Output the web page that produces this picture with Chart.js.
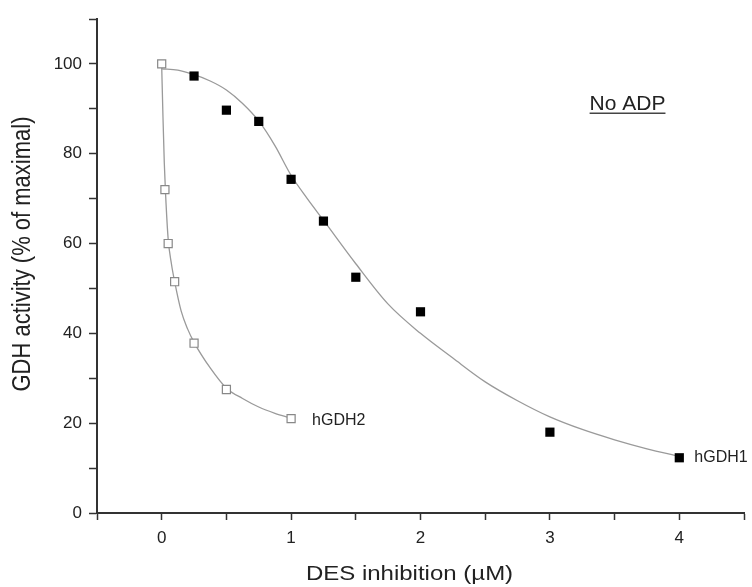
<!DOCTYPE html>
<html>
<head>
<meta charset="utf-8">
<title>GDH activity vs DES</title>
<script src="https://cdn.jsdelivr.net/npm/chart.js@4"></script>
<style>
  html, body { margin: 0; padding: 0; background: #fff; }
  canvas { display: block; }
</style>
</head>
<body>
<canvas id="chart" width="752" height="587"></canvas>
<script>
// measured points
const gdh1X = [0.25, 0.5, 0.75, 1, 1.25, 1.5, 2, 3, 4];
const gdh1Y = [97.3, 89.7, 87.2, 74.3, 65.0, 52.5, 44.8, 18.0, 12.3];
const gdh2X = [0, 0.025, 0.05, 0.1, 0.25, 0.5, 1];
const gdh2Y = [100, 72.0, 60.0, 51.5, 37.8, 27.5, 21.0];

// fitted curves
const fit1X = [0, 0.125, 0.25, 0.375, 0.5, 0.625, 0.75, 0.875, 1, 1.125, 1.25, 1.5, 1.75, 2, 2.25, 2.5, 2.75, 3, 3.25, 3.5, 3.75, 4];
const fit1Y = [98.9, 98.6, 97.6, 96.2, 94.2, 91.2, 87.3, 81.8, 75.2, 70.0, 65.2, 55.5, 46.5, 40.0, 34.5, 29.2, 25.0, 21.4, 18.6, 16.3, 14.3, 12.6];
const fit2X = [0, 0.01, 0.02, 0.03, 0.05, 0.075, 0.1, 0.15, 0.2, 0.25, 0.375, 0.5, 0.625, 0.75, 0.875, 1];
const fit2Y = [99.5, 88.0, 78.0, 71.0, 61.0, 55.5, 51.5, 45.0, 41.0, 38.0, 32.3, 27.8, 25.5, 23.6, 22.2, 21.1];

const xTicks = [0, 1, 2, 3, 4];
const yTicks = [0, 20, 40, 60, 80, 100];
const xTitle = "DES inhibition (µM)";
const yTitle = "GDH activity (% of maximal)";

const pts = (xs, ys) => xs.map((x, i) => ({ x, y: ys[i] }));
const FONT = "'Liberation Sans', Arial, sans-serif";
const INK = "#222";

// series labels, "No ADP" and the two axis titles
const labels = {
  id: "labels",
  afterDraw(chart) {
    const { ctx, chartArea, scales: { x, y } } = chart;
    ctx.save();
    ctx.fillStyle = INK;
    ctx.textBaseline = "middle";
    ctx.textAlign = "left";
    ctx.font = "16px " + FONT;
    const l1 = gdh1X.length - 1;
    ctx.fillText("hGDH1", x.getPixelForValue(gdh1X[l1]) + 15, y.getPixelForValue(gdh1Y[l1]));
    const l2 = gdh2X.length - 1;
    ctx.fillText("hGDH2", x.getPixelForValue(gdh2X[l2]) + 21, y.getPixelForValue(gdh2Y[l2]) + 2);

    ctx.font = "21px " + FONT;
    ctx.textBaseline = "alphabetic";
    const tx = x.getPixelForValue(3.6), ty = y.getPixelForValue(89.8);
    const w = ctx.measureText("No ADP").width;
    ctx.fillText("No ADP", tx - w / 2, ty);
    ctx.strokeStyle = "#444";
    ctx.lineWidth = 1.5;
    ctx.beginPath();
    ctx.moveTo(tx - w / 2, ty + 3.5);
    ctx.lineTo(tx + w / 2, ty + 3.5);
    ctx.stroke();

    // x title (the source is a little wide, so stretch it)
    ctx.textAlign = "center";
    ctx.textBaseline = "middle";
    ctx.font = "20px " + FONT;
    ctx.save();
    ctx.translate(chartArea.left + (chartArea.right - chartArea.left) * 0.483, 574);
    ctx.scale(1.2, 1);
    ctx.fillText(xTitle, 0, 0);
    ctx.restore();

    // y title
    ctx.font = "22px " + FONT;
    ctx.save();
    ctx.translate(23, (chartArea.top + chartArea.bottom) / 2 - 12);
    ctx.rotate(-Math.PI / 2);
    ctx.scale(1, 1.15);
    ctx.fillText(yTitle, 0, 0);
    ctx.restore();
    ctx.restore();
  },
};

new Chart(document.getElementById("chart"), {
  type: "scatter",
  data: {
    datasets: [
      { label: "hGDH1", data: pts(gdh1X, gdh1Y), order: 0, pointStyle: "rect", pointRadius: 6.5, backgroundColor: "#000", borderColor: "#000", borderWidth: 0 },
      { label: "hGDH2", data: pts(gdh2X, gdh2Y), order: 0, pointStyle: "rect", pointRadius: 5.7, backgroundColor: "#fff", borderColor: "#888", borderWidth: 1.2 },
      { label: "fit1", data: pts(fit1X, fit1Y), order: 1, showLine: true, pointRadius: 0, borderColor: "#9a9a9a", borderWidth: 1.3, cubicInterpolationMode: "monotone" },
      { label: "fit2", data: pts(fit2X, fit2Y), order: 1, showLine: true, pointRadius: 0, borderColor: "#9a9a9a", borderWidth: 1.3, cubicInterpolationMode: "monotone" },
    ],
  },
  options: {
    responsive: false,
    animation: false,
    layout: { padding: { top: 19, right: 7, left: 0, bottom: 0 } },
    plugins: { legend: { display: false }, tooltip: { enabled: false } },
    scales: {
      x: {
        type: "linear",
        min: -0.5,
        max: 4.5,
        afterFit: (s) => { s.height = 74; },
        border: { color: "#333", width: 2 },
        grid: { drawOnChartArea: false, tickLength: 7, tickColor: "#333", tickWidth: 1.5 },
        ticks: {
          stepSize: 0.5,
          autoSkip: false,
          maxRotation: 0,
          padding: 8,
          color: INK,
          font: { family: FONT, size: 17 },
          callback: (v) => (xTicks.includes(v) ? String(v) : ""),
        },
      },
      y: {
        min: 0,
        max: 110,
        afterFit: (s) => { s.width = 97; },
        border: { color: "#333", width: 2 },
        grid: { drawOnChartArea: false, tickLength: 8, tickColor: "#333", tickWidth: 1.5 },
        ticks: {
          stepSize: 10,
          autoSkip: false,
          padding: 7,
          color: INK,
          font: { family: FONT, size: 17 },
          callback: (v) => (yTicks.includes(v) ? String(v) : ""),
        },
      },
    },
  },
  plugins: [labels],
});
</script>
</body>
</html>
